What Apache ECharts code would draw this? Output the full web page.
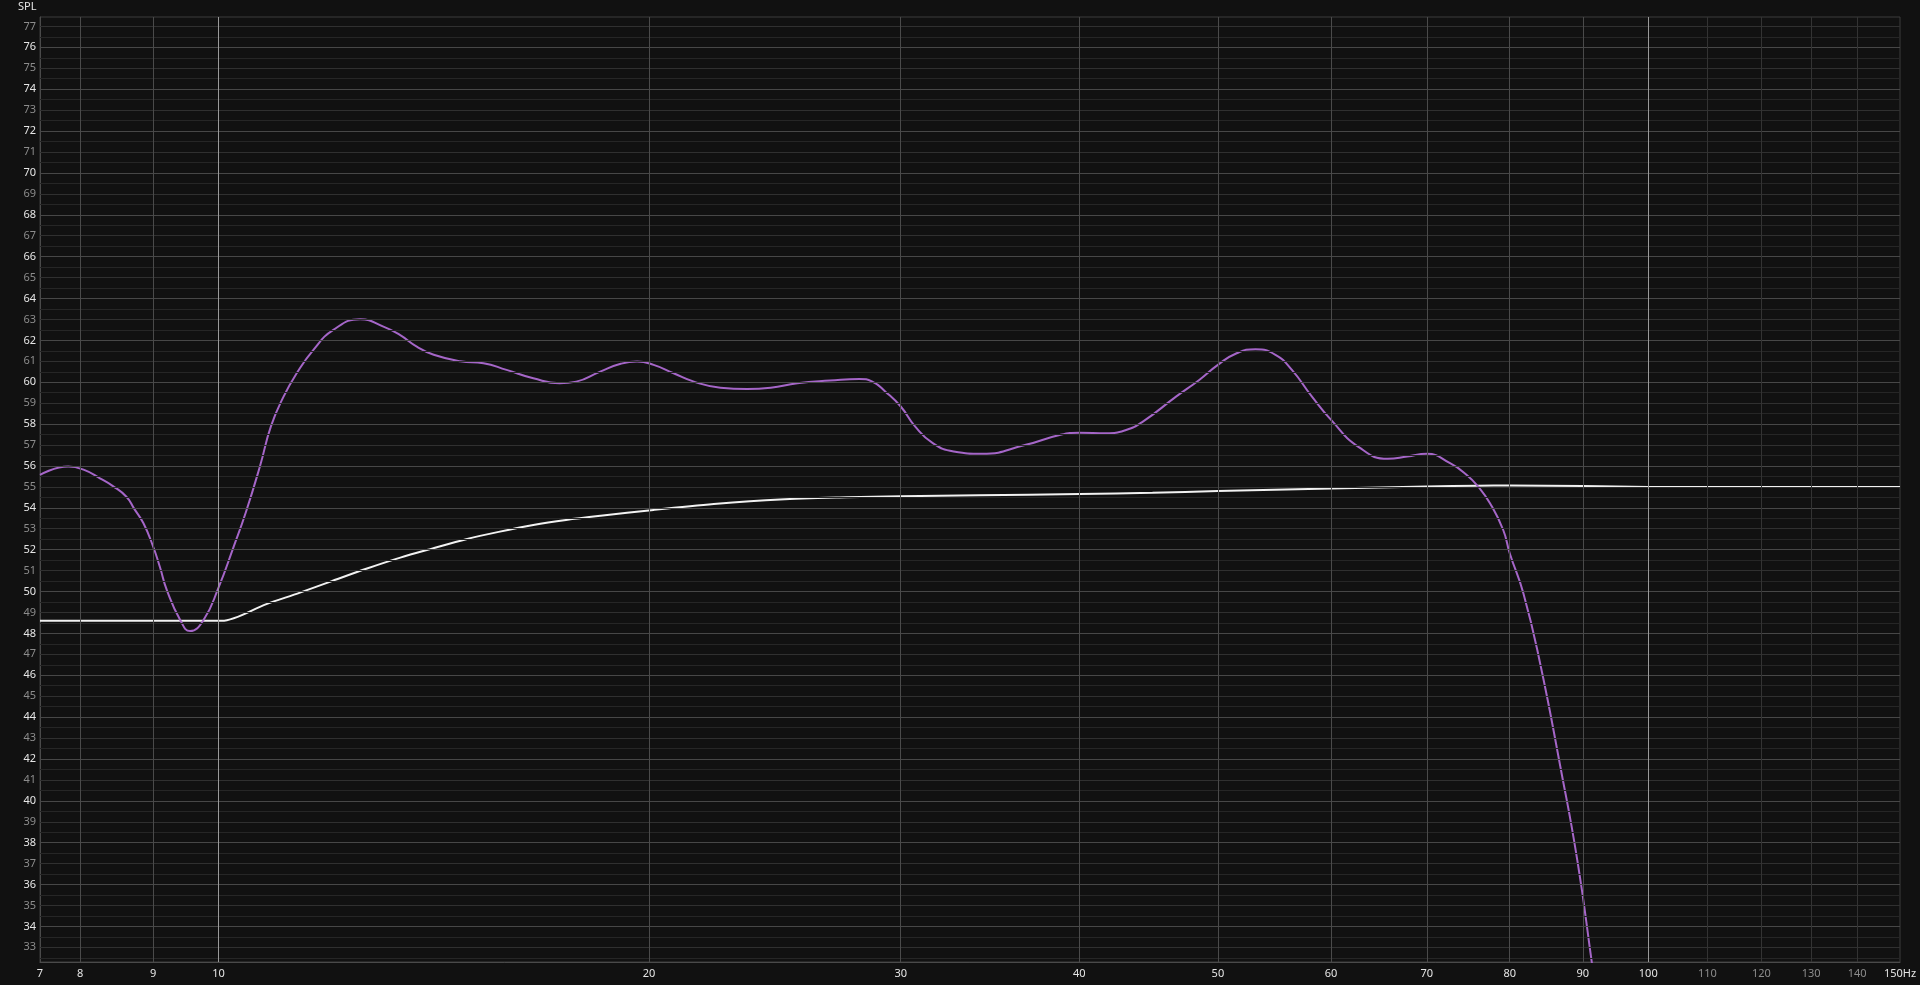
<!DOCTYPE html>
<html><head><meta charset="utf-8">
<script src="https://cdn.jsdelivr.net/npm/echarts@6/dist/echarts.min.js"></script>
<style>html,body{margin:0;padding:0;background:#111111;}#c{width:1920px;height:985px;}</style>
</head><body><div id="c"></div>
<script>
// Measured response (purple)
const measuredHz = [7.5, 7.85, 8.06, 8.26, 8.43, 8.62, 8.73, 8.86, 9.0, 9.1, 9.2, 9.4, 9.55, 9.76, 10.0, 10.24, 10.45, 10.69, 10.88, 11.1, 11.34, 11.65, 12.03, 12.56, 13.04, 13.39, 13.76, 14.14, 14.76, 15.32, 15.9, 16.6, 17.32, 17.79, 18.49, 19.11, 19.62, 20.15, 20.81, 21.5, 22.44, 23.42, 24.33, 25.4, 26.77, 28.07, 28.66, 29.27, 30.0, 30.71, 31.59, 32.67, 34.2, 36.7, 38.75, 40.0, 41.78, 43.13, 44.31, 46.74, 48.52, 50.0, 51.45, 53.13, 54.86, 56.33, 58.18, 60.0, 62.74, 65.75, 67.83, 70.0, 72.67, 74.65, 76.05, 77.5, 79.17, 80.0, 81.78, 84.0, 86.8, 89.2, 91.3, 92.5];
const measuredDb = [55.57, 55.97, 55.8, 55.41, 55.05, 54.53, 53.95, 53.26, 52.14, 51.15, 50.07, 48.64, 48.11, 48.64, 50.2, 52.1, 53.8, 56.0, 57.9, 59.3, 60.43, 61.55, 62.5, 63.01, 62.66, 62.26, 61.7, 61.31, 61.0, 60.91, 60.59, 60.19, 59.95, 60.03, 60.51, 60.88, 60.99, 60.83, 60.43, 60.03, 59.74, 59.68, 59.74, 59.95, 60.08, 60.16, 60.03, 59.55, 58.84, 57.88, 57.09, 56.69, 56.58, 57.01, 57.48, 57.59, 57.56, 57.72, 58.12, 59.31, 60.11, 60.83, 61.36, 61.58, 61.31, 60.59, 59.31, 58.2, 56.9, 56.34, 56.45, 56.58, 56.13, 55.57, 55.01, 54.22, 52.94, 51.83, 49.92, 46.6, 41.63, 37.17, 32.31, 29.5];
// Target curve (white)
const targetHz = [7.5, 9.9, 10.05, 10.8, 11.4, 12.0, 12.7, 13.4, 14.1, 14.9, 15.7, 16.6, 17.5, 18.5, 20.15, 22.2, 24.7, 27.5, 30, 34, 40, 45, 50, 60, 70, 76, 80, 90, 100, 120, 150];
const targetDb = [48.6, 48.6, 48.6, 49.4, 49.95, 50.5, 51.1, 51.62, 52.05, 52.5, 52.85, 53.18, 53.42, 53.62, 53.9, 54.18, 54.4, 54.5, 54.55, 54.6, 54.66, 54.72, 54.8, 54.92, 55.02, 55.06, 55.07, 55.04, 55.0, 54.99, 55.0];
// Axis ticks
const xTickValues = [7.5, 8, 9, 10, 20, 30, 40, 50, 60, 70, 80, 90, 100, 110, 120, 130, 140, 150];
const xTickLabels = ['7', '8', '9', '10', '20', '30', '40', '50', '60', '70', '80', '90', '100', '110', '120', '130', '140', '150Hz'];
const xMinorLabelValues = [110, 120, 130, 140];
const xMajorLines = [10, 100];
const yTickValues = [33, 34, 35, 36, 37, 38, 39, 40, 41, 42, 43, 44, 45, 46, 47, 48, 49, 50, 51, 52, 53, 54, 55, 56, 57, 58, 59, 60, 61, 62, 63, 64, 65, 66, 67, 68, 69, 70, 71, 72, 73, 74, 75, 76, 77];

const chart = echarts.init(document.getElementById('c'), null, {renderer: 'canvas'});
const zip = (a, b) => a.map((v, i) => [v, b[i]]);

// grid lines
const gridLines = [];
yTickValues.forEach(v => {
  gridLines.push({yAxis: v, lineStyle: {color: v % 2 === 0 ? '#474747' : '#303030', width: 1, type: 'solid'}});
  gridLines.push({yAxis: v - 0.5, lineStyle: {color: '#262626', width: 1, type: 'solid'}});
});
xTickValues.slice(1, -1).forEach(v => {
  let c = '#4a4a4a';
  if (xMajorLines.includes(v)) c = '#9a9a9a';
  else if (xMinorLabelValues.includes(v)) c = '#333333';
  gridLines.push({xAxis: v, lineStyle: {color: c, width: 1, type: 'solid'}});
});

const font = '"Noto Sans", "Open Sans", sans-serif';
chart.setOption({
  animation: false,
  backgroundColor: '#111111',
  title: {text: 'SPL', left: 18, top: 1, padding: 0, textStyle: {color: '#e6e6e6', fontSize: 11, fontWeight: 'normal', fontFamily: font}},
  grid: {left: 40, right: 20, top: 17, bottom: 23, show: true, borderColor: '#3c3c3c', borderWidth: 1, backgroundColor: '#111111'},
  xAxis: {
    type: 'log', logBase: 10, min: 7.5, max: 150,
    axisLine: {show: true, lineStyle: {color: '#4a4a4a'}},
    axisTick: {show: false}, splitLine: {show: false}, minorSplitLine: {show: false},
    axisLabel: {
      customValues: xTickValues, margin: 6, fontSize: 11, fontFamily: font, hideOverlap: false,
      showMinLabel: true, showMaxLabel: true,
      formatter: v => { const i = xTickValues.findIndex(t => Math.abs(t - v) < 1e-6); return i >= 0 ? xTickLabels[i] : ''; },
      color: v => xMinorLabelValues.some(t => Math.abs(t - v) < 1e-6) ? '#8c8c8c' : '#e6e6e6'
    }
  },
  yAxis: {
    type: 'value', min: 32.3, max: 77.45,
    axisLine: {show: true, lineStyle: {color: '#4a4a4a'}},
    axisTick: {show: false}, splitLine: {show: false},
    axisLabel: {
      customValues: yTickValues, margin: 4, fontSize: 11, fontFamily: font, hideOverlap: false,
      formatter: v => String(Math.round(v)),
      color: v => Math.round(v) % 2 === 0 ? '#e6e6e6' : '#8c8c8c'
    }
  },
  series: [
    {type: 'line', data: [], z: 1, silent: true,
     markLine: {silent: true, symbol: ['none', 'none'], animation: false, label: {show: false}, data: gridLines}},
    {type: 'line', name: 'Target', data: zip(targetHz, targetDb), z: 3, symbol: 'none', smooth: 0.3,
     lineStyle: {color: '#f2f2f2', width: 2}},
    {type: 'line', name: 'Measured', data: zip(measuredHz, measuredDb), z: 4, symbol: 'none', smooth: 0.5, clip: true,
     lineStyle: {color: '#a566c8', width: 2}}
  ]
});
</script></body></html>
